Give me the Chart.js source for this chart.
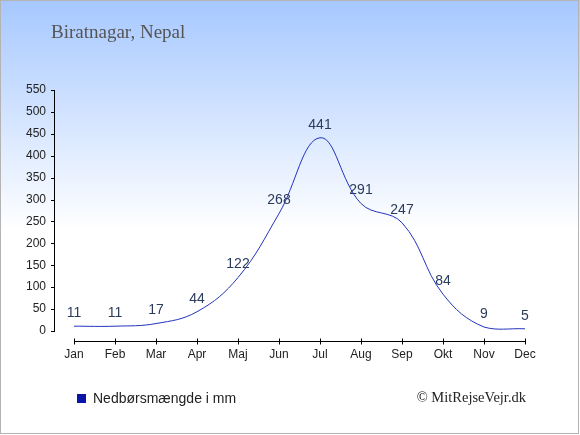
<!DOCTYPE html>
<html><head><meta charset="utf-8">
<script src="https://cdn.jsdelivr.net/npm/chart.js@4/dist/chart.umd.min.js"></script>
<style>html,body{margin:0;padding:0;background:#fff}#wrap{width:580px;height:435px}</style>
</head><body><div id="wrap"><canvas id="c" width="580" height="435"></canvas></div>
<script>
const months = ['Jan','Feb','Mar','Apr','Maj','Jun','Jul','Aug','Sep','Okt','Nov','Dec'];
const precipitation = [11,11,17,44,122,268,441,291,247,84,9,5];
const yTicks = [0,50,100,150,200,250,300,350,400,450,500,550];
const chartTitle = 'Biratnagar, Nepal';
const seriesLabel = 'Nedbørsmængde i mm';
const credit = '\u00A9 MitRejseVejr.dk';

const decor = {
  id: 'decor',
  beforeDraw(chart) {
    const ctx = chart.ctx, W = chart.width, H = chart.height;
    ctx.save();
    const g = ctx.createLinearGradient(0, 0, 0, 230);
    g.addColorStop(0, '#a6c8ff');
    g.addColorStop(1, '#ffffff');
    ctx.fillStyle = g;
    ctx.fillRect(0, 0, W, H);
    ctx.strokeStyle = '#b4b4b4';
    ctx.lineWidth = 1;
    ctx.strokeRect(0.5, 0.5, W - 2, H - 2);
    ctx.restore();
  },
  afterDraw(chart) {
    const ctx = chart.ctx, xs = chart.scales.x, ys = chart.scales.y;
    const area = chart.chartArea;
    ctx.save();
    ctx.strokeStyle = '#000000';
    ctx.lineWidth = 1;
    // y axis
    const ax = 54.5;
    const yTop = Math.round(ys.getPixelForValue(yTicks[yTicks.length - 1]));
    const yBot = Math.round(ys.getPixelForValue(0));
    ctx.beginPath();
    ctx.moveTo(ax, yTop);
    ctx.lineTo(ax, yBot + 1);
    ctx.stroke();
    yTicks.forEach(v => {
      const y = Math.round(ys.getPixelForValue(v)) + 0.5;
      ctx.beginPath();
      ctx.moveTo(51, y); ctx.lineTo(55, y);
      ctx.stroke();
    });
    // x axis
    const ay = Math.round(area.bottom) + 10.5;
    ctx.beginPath();
    ctx.moveTo(xs.getPixelForValue(0), ay);
    ctx.lineTo(xs.getPixelForValue(months.length - 1), ay);
    ctx.stroke();
    months.forEach((m, i) => {
      const x = Math.round(xs.getPixelForValue(i)) + 0.5;
      ctx.beginPath();
      ctx.moveTo(x, ay - 3); ctx.lineTo(x, ay + 3);
      ctx.stroke();
    });
    // data labels
    ctx.fillStyle = '#2a3b5c';
    ctx.font = '14px "Liberation Sans", Arial, sans-serif';
    ctx.textAlign = 'center';
    ctx.textBaseline = 'middle';
    precipitation.forEach((v, i) => {
      ctx.fillText(String(v), xs.getPixelForValue(i), ys.getPixelForValue(v) - 13);
    });
    // title
    ctx.textAlign = 'left';
    ctx.textBaseline = 'alphabetic';
    ctx.fillStyle = '#555';
    ctx.font = '19px "Liberation Serif", "Times New Roman", serif';
    ctx.fillText(chartTitle, 51, 38);
    // legend
    ctx.fillStyle = '#0a14a8';
    ctx.fillRect(77, 394, 9, 9);
    ctx.fillStyle = '#222';
    ctx.font = '14px "Liberation Sans", Arial, sans-serif';
    ctx.fillText(seriesLabel, 93, 403);
    // credit
    ctx.textAlign = 'right';
    ctx.font = '14.5px "Liberation Serif", "Times New Roman", serif';
    ctx.fillText(credit, 526, 402);
    ctx.restore();
  }
};

new Chart(document.getElementById('c'), {
  type: 'line',
  data: {
    labels: months,
    datasets: [{
      label: seriesLabel,
      data: precipitation,
      borderColor: '#2233bb',
      borderWidth: 1,
      pointRadius: 0,
      tension: 0.4,
      fill: false
    }]
  },
  options: {
    responsive: false,
    animation: false,
    devicePixelRatio: 1,
    layout: { padding: { left: 0, top: 90, right: 55, bottom: 0 } },
    plugins: { legend: { display: false }, tooltip: { enabled: false }, title: { display: false } },
    scales: {
      x: {
        offset: false,
        grid: { display: false },
        border: { display: false },
        ticks: { color: '#222', padding: 8, maxRotation: 0, autoSkip: false,
                 font: { family: '"Liberation Sans", Arial, sans-serif', size: 12 } },
        afterFit(s) { s.height = 104; }
      },
      y: {
        min: 0, max: 550,
        grid: { display: false },
        border: { display: false },
        afterBuildTicks(s) { s.ticks = yTicks.map(v => ({ value: v })); },
        ticks: { color: '#222', padding: 20,
                 font: { family: '"Liberation Sans", Arial, sans-serif', size: 12 } },
        afterFit(s) { s.width = 74; }
      }
    }
  },
  plugins: [decor]
});
</script>
</body></html>
